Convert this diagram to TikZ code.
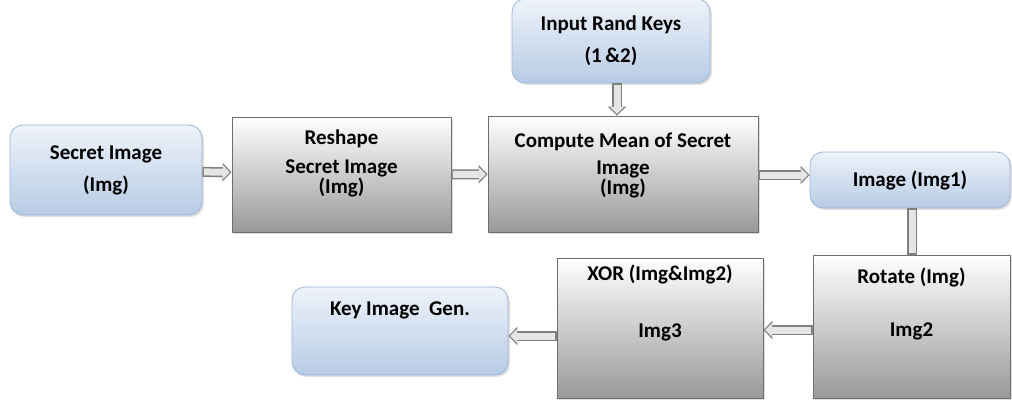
\documentclass[tikz,border=0pt]{standalone}
\usepackage{fontspec}
\setmainfont{Carlito}
\usetikzlibrary{arrows.meta,positioning,shadows}

\definecolor{bluetop}{HTML}{EEF3FA}
\definecolor{bluebot}{HTML}{B7CBE5}
\definecolor{blueedge}{HTML}{9CB6D8}
\definecolor{grayedge}{HTML}{6E6E6E}

\begin{document}
\begin{tikzpicture}[x=1pt, y=-1pt,
  graybox/.style={draw=grayedge, line width=0.8pt, top color=white, bottom color=black!40,
    drop shadow={shadow xshift=2pt, shadow yshift=-2pt, fill=black!25}},
  bluebox/.style={draw=blueedge, line width=0.8pt, rounded corners=13pt, top color=bluetop, bottom color=bluebot,
    drop shadow={shadow xshift=2pt, shadow yshift=-2pt, fill=black!25}},
  txt/.style={font=\fontsize{21}{20}\selectfont\bfseries, align=center, inner sep=0pt},
  flowbar/.style={line width=10pt, draw=black!50,
    postaction={draw=black!10, line width=7pt, shorten <=1.5pt, shorten >=1.5pt}},
  flow/.style={line width=10pt, draw=black!50, -{Triangle[length=9pt,width=18pt]},
    postaction={draw=black!10, line width=7pt, shorten <=1.5pt, shorten >=1.8pt, -{Triangle[length=7pt,width=14pt]}}}]

  % Frame
  \useasboundingbox (0,0) rectangle (1012,401);

  % Top row
  \node[bluebox, txt, minimum width=192pt, minimum height=90pt] (secret) at (106,170)
    {Secret Image\\[12pt](Img)};
  \node[graybox, minimum width=219pt, minimum height=115pt] (reshape) at (341.5,174.5) {};
  \node[graybox, minimum width=270pt, minimum height=116pt] (compute) at (623,174) {};
  \node[bluebox, txt, minimum width=198pt, minimum height=84pt] (keys) at (611,41)
    {Input Rand Keys\\[12pt](1\,\&2)};
  \node[bluebox, txt, minimum width=200pt, minimum height=56pt] (img1) at (910,180) {Image (Img1)};

  % Bottom row
  \node[graybox, minimum width=197pt, minimum height=143pt] (rotate) at (911.5,326.5) {};
  \node[graybox, minimum width=206pt, minimum height=140pt] (xor) at (660,328) {};
  \node[bluebox, minimum width=216pt, minimum height=88pt] (keygen) at (400,331) {};

  % Texts sitting near the top of their boxes
  \node[txt, below=13pt of reshape.north] (reshape-t) {Reshape\\[9pt]Secret Image\\(Img)};
  \node[txt, below=17pt of compute.north] (compute-t) {Compute Mean of Secret\\[7pt]Image\\(Img)};
  \node[txt, below=13pt of rotate.north] (rotate-t) {Rotate (Img)\\[33pt]Img2};
  \node[txt, below=7pt of xor.north] (xor-t) {XOR (Img\&Img2)\\[37pt]Img3};
  \node[txt, below=15pt of keygen.north] (keygen-t) {Key Image\ \ Gen.};

  % Block arrows
  \draw[flow] (secret) -- (reshape);
  \draw[flow] (reshape) -- (compute);
  \draw[flow] (keys.south -| 617,0) -- (compute.north -| 617,0);
  \draw[flow] (compute.east |- 0,175) -- (img1.west |- 0,175);
  \draw[flowbar] (img1.south -| 912,0) -- (rotate.north -| 912,0);
  \draw[flow] (rotate.west |- 0,330) -- (xor.east |- 0,330);
  \draw[flow] (xor.west |- 0,336) -- (keygen.east |- 0,336);
\end{tikzpicture}
\end{document}
